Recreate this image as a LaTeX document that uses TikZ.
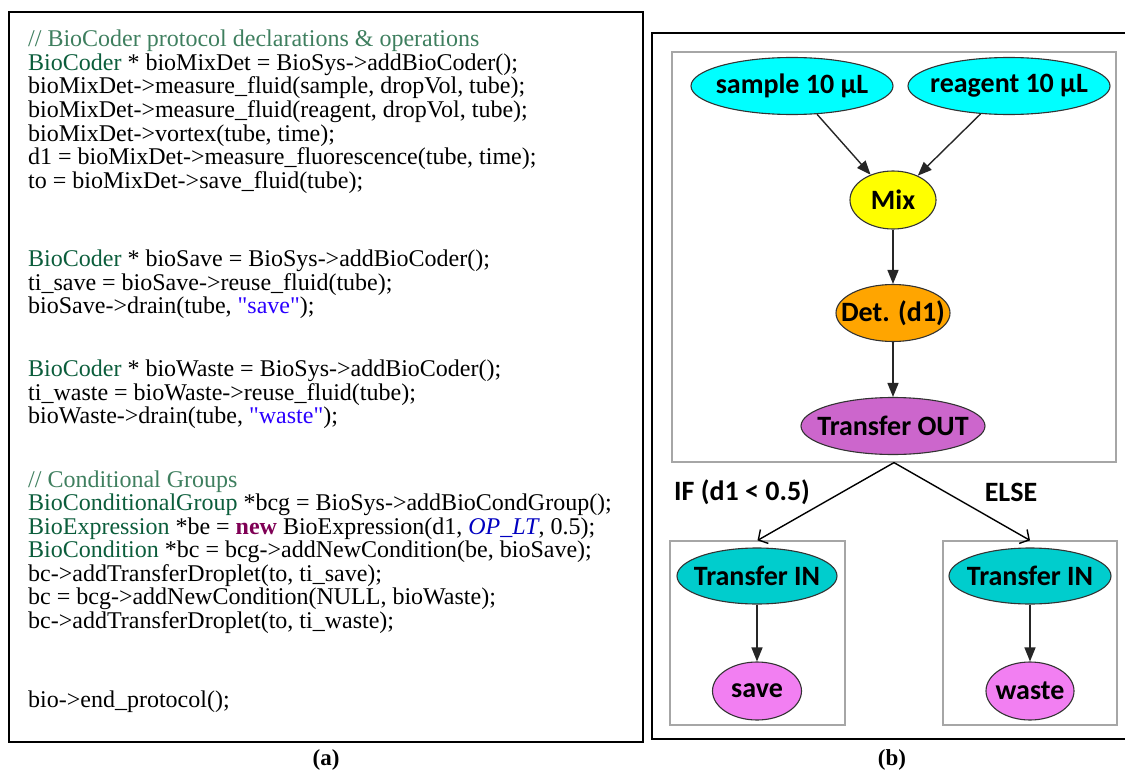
\documentclass[tikz,border=0pt]{standalone}
\usepackage{fontspec}
\setmainfont{Liberation Serif}[Ligatures=TeXOff]
\newfontfamily\gfont{Carlito}
\usetikzlibrary{arrows.meta,shapes.geometric}

% syntax colours of the code listing
\definecolor{cmt}{HTML}{3F7F5F}
\definecolor{cls}{HTML}{0B5D3B}
\definecolor{kw}{HTML}{7F0055}
\definecolor{strc}{HTML}{2A00FF}
\definecolor{fld}{HTML}{0000C0}
% fills of the flow graph
\definecolor{fcyan}{HTML}{00FFFF}
\definecolor{fyellow}{HTML}{FFFF00}
\definecolor{forange}{HTML}{FFA500}
\definecolor{forchid}{HTML}{CC66CC}
\definecolor{fteal}{HTML}{00CDCD}
\definecolor{fviolet}{HTML}{F27FF2}

\tikzset{
  codeline/.style={anchor=base west, inner sep=0pt, font=\fontsize{24}{24}\selectfont},
  caption/.style={inner sep=0pt, font=\fontsize{23}{23}\selectfont\bfseries},
  op/.style={ellipse, draw=black!80, line width=1.1pt, inner sep=0pt,
             font=\gfont\bfseries\fontsize{28}{28}\selectfont},
  grouplabel/.style={inner sep=0pt, font=\gfont\bfseries\fontsize{28}{28}\selectfont},
  cluster/.style={rectangle, draw=black!35, line width=1.2pt, inner sep=0pt},
  flow/.style={draw=black!85, line width=1.4pt, -{Triangle[length=14pt,width=11pt]}},
  branch/.style={line width=1.4pt, -{Straight Barb[length=7pt,width=16pt]}},
  panel/.style={line width=2.6pt},
}

\newcommand{\cl}[1]{\textcolor{cls}{#1}}
\newcommand{\cm}[1]{\textcolor{cmt}{#1}}
\newcommand{\st}[1]{\textcolor{strc}{#1}}
% zero-width label, so an ellipse keeps its given size
\newcommand{\lbl}[1]{\makebox[0pt]{#1}}

\begin{document}
\begin{tikzpicture}[x=1pt,y=-1pt]
\useasboundingbox (0,0) rectangle (1125,771);

% ---------- (a) code listing ----------
\draw[panel] (9,12) rectangle (643,742);
\node[codeline] (l1)  at (28,46)  {\cm{// BioCoder protocol declarations \& operations}};
\node[codeline] (l2)  at (28,70)  {\cl{BioCoder} * bioMixDet = BioSys->addBioCoder();};
\node[codeline] (l3)  at (28,93)  {bioMixDet->measure\_fluid(sample, dropVol, tube);};
\node[codeline] (l4)  at (28,117) {bioMixDet->measure\_fluid(reagent, dropVol, tube);};
\node[codeline] (l5)  at (28,141) {bioMixDet->vortex(tube, time);};
\node[codeline] (l6)  at (28,164) {d1 = bioMixDet->measure\_fluorescence(tube, time);};
\node[codeline] (l7)  at (28,188) {to = bioMixDet->save\_fluid(tube);};
\node[codeline] (l9)  at (28,266) {\cl{BioCoder} * bioSave = BioSys->addBioCoder();};
\node[codeline] (l10) at (28,290) {ti\_save = bioSave->reuse\_fluid(tube);};
\node[codeline] (l11) at (28,313) {bioSave->drain(tube, \st{"save"});};
\node[codeline] (l13) at (28,376) {\cl{BioCoder} * bioWaste = BioSys->addBioCoder();};
\node[codeline] (l14) at (28,400) {ti\_waste = bioWaste->reuse\_fluid(tube);};
\node[codeline] (l15) at (28,423) {bioWaste->drain(tube, \st{"waste"});};
\node[codeline] (l17) at (28,487) {\cm{// Conditional Groups}};
\node[codeline] (l18) at (28,510) {\cl{BioConditionalGroup} *bcg = BioSys->addBioCondGroup();};
\node[codeline] (l19) at (28,534) {\cl{BioExpression} *be = \textcolor{kw}{\bfseries new} BioExpression(d1, \textcolor{fld}{\itshape OP\_LT}, 0.5);};
\node[codeline] (l20) at (28,557) {\cl{BioCondition} *bc = bcg->addNewCondition(be, bioSave);};
\node[codeline] (l21) at (28,581) {bc->addTransferDroplet(to, ti\_save);};
\node[codeline] (l22) at (28,604) {bc = bcg->addNewCondition(NULL, bioWaste);};
\node[codeline] (l23) at (28,628) {bc->addTransferDroplet(to, ti\_waste);};
\node[codeline] (l25) at (28,707) {bio->end\_protocol();};
\node[caption] (capa) at (326,760) {(a)};

% ---------- (b) flow graph ----------
\draw[panel] (1130,33) -- (652,33) -- (652,739) -- (1130,739);

\node[cluster, minimum width=444pt, minimum height=410pt] (gmain) at (894,257) {};
\node[cluster, minimum width=175pt, minimum height=184pt] (gsave) at (757.5,633) {};
\node[cluster, minimum width=174pt, minimum height=184pt] (gwaste) at (1030,633) {};

\node[op, fill=fcyan, minimum width=202pt, minimum height=57pt] (sample) at (792,86) {\lbl{sample 10 µL}};
\node[op, fill=fcyan, minimum width=202pt, minimum height=57pt] (reagent) at (1009,86) {\lbl{reagent 10 µL}};
\node[op, fill=fyellow, minimum width=86pt, minimum height=58pt] (mix) at (893,200) {\lbl{Mix}};
\node[op, fill=forange, minimum width=114pt, minimum height=57pt] (det) at (893,313) {\lbl{Det. (d1)}};
\node[op, fill=forchid, minimum width=184pt, minimum height=57pt] (tout) at (893,426) {\lbl{Transfer OUT}};

\node[op, fill=fteal, minimum width=160pt, minimum height=56pt] (tinl) at (757,576) {\lbl{Transfer IN}};
\node[op, fill=fviolet, minimum width=89pt, minimum height=58pt] (save) at (757,691) {\lbl{save}};
\node[op, fill=fteal, minimum width=162pt, minimum height=56pt] (tinr) at (1030,576) {\lbl{Transfer IN}};
\node[op, fill=fviolet, minimum width=88pt, minimum height=58pt] (waste) at (1030,691) {\lbl{waste}};

\draw[flow] (sample) -- (mix);
\draw[flow] (reagent) -- (mix);
\draw[flow] (mix) -- (det);
\draw[flow] (det) -- (tout);
\draw[flow] (tinl) -- (save);
\draw[flow] (tinr) -- (waste);

\draw[branch] (gmain.south) -- (gsave.north);
\draw[branch] (gmain.south) -- (gwaste.north);
\node[grouplabel] (iflab) at (742,492) {IF (d1 < 0.5)};
\node[grouplabel] (elselab) at (1011,492) {ELSE};

\node[caption] (capb) at (892,760) {(b)};
\end{tikzpicture}
\end{document}
